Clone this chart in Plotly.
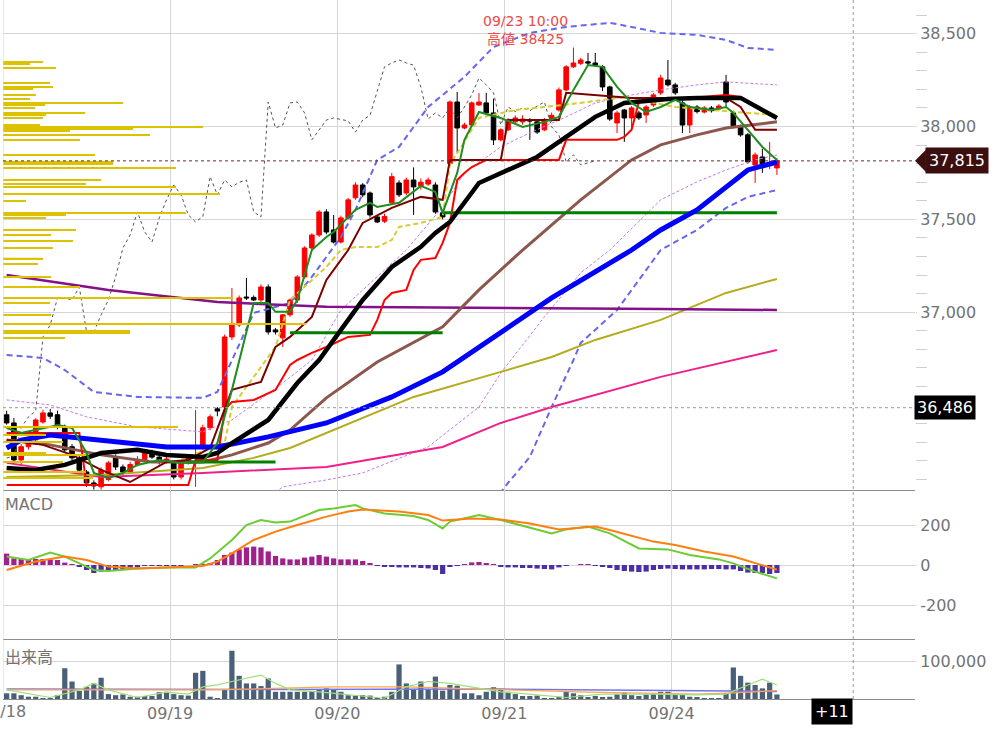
import plotly.graph_objects as go
from plotly.subplots import make_subplots

# ---------------- data ----------------
day_labels = ["09/18", "09/19", "09/20", "09/21", "09/24"]
bars_per_day = 23
future_bars = 11
marker_price = 36486

opens = [36448,36404,36205,36276,36313,36409,36458,36448,36383,36276,
         36216,36140,36081,36060,36100,36221,36167,36140,36180,36205,
         36243,36220,36195,36189,36113,36189,36215,36276,36378,36480,
         36490,36867,36932,37082,37080,37066,37136,36905,36862,36986,
         37066,37190,37346,37416,37540,37443,37378,37508,37616,37685,
         37642,37513,37490,37589,37696,37642,37712,37680,37690,37685,
         37535,37800,38132,37992,38008,38116,38127,38073,37928,37982,
         38025,38025,38035,38025,37982,38035,38089,38197,38321,38340,
         38348,38342,38321,38213,38019,38089,38046,38073,38062,38116,
         38181,38250,38224,38127,38008,38105,38078,38100,38095,38240,
         38073,37998,37955,37793,37836,37800,37777]
highs = [36470,36430,36290,36330,36430,36475,36480,36470,36395,36290,
         36230,36150,36095,36165,36200,36235,36180,36195,36225,36255,
         36260,36230,36225,36200,36200,36235,36474,36395,36450,36490,
         36880,37130,37090,37185,37090,37150,37150,36915,36990,37075,
         37200,37355,37425,37550,37555,37524,37520,37615,37700,37695,
         37650,37520,37530,37750,37710,37725,37780,37720,37725,37700,
         37545,38140,38186,38020,38135,38180,38181,38150,37990,38045,
         38060,38060,38045,38030,38045,38075,38210,38330,38425,38370,
         38396,38396,38330,38220,38085,38095,38110,38085,38115,38180,
         38278,38358,38235,38140,38115,38115,38110,38110,38120,38278,
         38085,38010,37965,37860,37880,37917,37830]
lows = [36395,36190,36180,36260,36300,36400,36425,36370,36245,36200,
        36135,36060,36045,36045,36090,36150,36120,36130,36170,36195,
        36210,36180,36185,36100,36100,36180,36060,36260,36365,36440,
        36470,36850,36920,37066,37060,37055,36880,36880,36813,36975,
        37050,37180,37335,37405,37420,37370,37370,37500,37605,37620,
        37510,37480,37480,37580,37620,37630,37524,37660,37680,37530,
        37500,37790,37860,37985,38000,38110,38060,37900,37920,37975,
        38015,38010,37928,37960,37975,38025,38080,38190,38315,38330,
        38330,38320,38190,38030,37965,37917,37982,38035,38019,38105,
        38170,38215,38170,37965,37965,38070,38070,38075,38085,38105,
        37990,37945,37800,37696,37750,37770,37739]
closes = [36404,36205,36276,36313,36420,36458,36440,36383,36259,36216,
          36150,36081,36065,36151,36189,36167,36140,36180,36205,36243,
          36220,36195,36210,36113,36189,36215,36225,36378,36437,36468,
          36867,36932,37077,37077,37066,37136,36894,36894,36986,37066,
          37190,37346,37416,37540,37432,37378,37508,37605,37685,37632,
          37524,37486,37515,37730,37632,37712,37675,37700,37712,37540,
          37513,38132,37992,38008,38127,38132,38073,37928,37982,38035,
          38046,38040,38030,37970,38035,38060,38197,38321,38342,38358,
          38342,38330,38213,38040,38073,38046,38100,38046,38105,38170,
          38261,38224,38181,38008,38105,38080,38100,38085,38110,38132,
          37998,37955,37810,37847,37793,37805,37815]

volume = [15000,15000,10000,6000,6000,2000,2000,10000,81000,46000,
          21000,32000,41000,56000,13000,10000,12000,6000,6000,8000,
          8000,18000,19000,13000,10000,9000,69000,74000,6000,1000,
          24000,127000,61000,41000,41000,34000,54000,19000,19000,19000,
          19000,19000,21000,25000,28000,26000,19000,10000,9000,10000,
          9000,2000,6000,19000,91000,41000,26000,46000,26000,59000,
          22000,37000,35000,15000,15000,10000,19000,31000,26000,19000,
          13000,8000,8000,9000,2000,1000,6000,21000,15000,10000,
          4000,8000,4000,6000,13000,17000,10000,8000,12000,13000,
          19000,19000,13000,12000,6000,4000,2000,1000,2000,15000,
          83000,61000,43000,37000,28000,43000,12000]

macd_hist = [57,33,30,30,30,30,28,25,12,2,
             -8,-25,-40,-33,-25,-25,-22,-15,-12,-5,
             -3,-2,-2,-2,-2,0,2,5,8,25,
             50,62,78,88,92,88,68,45,33,28,
             28,37,42,50,42,33,28,28,28,20,
             8,-2,-10,-10,-12,-12,-12,-15,-17,-25,
             -45,-8,-2,2,13,15,8,2,-10,-12,
             -12,-15,-15,-18,-20,-22,-12,-5,0,2,
             2,-3,-10,-15,-25,-30,-33,-35,-33,-25,
             -20,-18,-20,-22,-22,-22,-22,-20,-20,-22,
             -22,-30,-38,-40,-40,-45,-40]

# indicator lines: (bar index, value)
blue_x = [0,2,6,13,22,29,36,44,53,60,68,75,86,90,95,99,102,106]
blue_y = [36269,36312,36339,36312,36275,36275,36329,36404,36544,36679,36889,37077,37335,37443,37551,37675,37766,37809]
black_x = [0,4,8,13,18,22,27,29,31,36,40,43,46,49,53,57,59,61,65,70,73,77,81,85,91,95,101,106]
black_y = [36162,36151,36178,36242,36259,36232,36221,36242,36296,36420,36619,36743,36905,37066,37244,37352,37427,37486,37696,37782,37836,37944,38052,38127,38148,38154,38154,38046]
brown_x = [0,6,13,20,27,31,36,39,44,51,60,65,71,79,86,90,95,99,106]
brown_y = [36312,36286,36232,36194,36194,36232,36296,36366,36539,36732,36921,37120,37335,37605,37820,37901,37955,37992,38025]
olive_x = [0,13,27,34,39,44,56,68,75,81,90,99,106]
olive_y = [36113,36124,36162,36216,36269,36350,36544,36679,36759,36851,36959,37104,37179]
pink_x = [0,13,27,44,60,68,75,90,106]
pink_y = [36189,36113,36135,36167,36275,36404,36490,36652,36797]
purple_x = [0,14,29,44,90,106]
purple_y = [37201,37120,37055,37029,37018,37012]
green_x = [0,2,6,7,9,11,12,14,16,18,21,24,27,28,29,31,32,34,36,37,39,40,42,44,45,48,50,51,54,56,
           57,59,60,62,63,65,68,71,74,76,78,80,82,84,86,88,90,92,94,97,99,100,102,104,106]
green_y = [36377,36350,36383,36393,36377,36242,36135,36108,36135,36178,36205,36189,36194,36242,36296,
           36582,36743,37050,37050,37002,37002,37066,37335,37405,37432,37551,37589,37567,37589,37648,
           37680,37648,37535,37750,37928,38078,38046,37998,38025,38052,38197,38331,38321,38213,38127,
           38078,38105,38143,38105,38089,38105,38073,37982,37890,37820]
maroon_x = [0,5,9,13,17,20,22,25,28,31,35,37,39,42,44,47,49,53,57,60,61,68,69,76,77,86,99,101,103,106]
maroon_y = [36312,36286,36232,36151,36086,36151,36194,36205,36269,36582,36625,36813,36867,36975,37174,
            37335,37481,37562,37621,37605,37820,37820,38035,38035,38181,38154,38154,38105,37982,37982]
red_x = [0,10,11,25,26,29,30,31,34,37,39,40,42,44,47,50,51,52,53,55,56,57,59,60,61,62,63,64,66,76,
         77,84,85,86,87,99,101,103,106]
red_y = [36350,36350,36070,36070,36205,36205,36474,36517,36528,36582,36716,36743,36781,36813,36867,
         36878,36959,37066,37104,37120,37228,37282,37292,37373,37481,37712,37750,37782,37820,37820,
         37928,37928,37944,37982,38132,38170,38159,38105,38052]
red2_x = [0,11]
red2_y = [36070,36070]
yellow_x = [23,30,31,34,37,39,41,44,46,48,51,53,54,57,60,61,65,70,74,79,85,92,102,106]
yellow_y = [36194,36296,36490,36652,36813,37066,37136,37244,37335,37351,37351,37389,37459,37481,
            37513,37793,38046,38089,38105,38127,38159,38105,38073,38062]
bb2_up_x = [0,5,8,12,18,27,29,31,34,39,42,46,48,51,54,58,63,67,72,77,83,86,90,95,99,102,106]
bb2_up_y = [36770,36754,36689,36571,36544,36539,36571,36743,36996,37050,37190,37405,37551,37820,37890,
            38105,38267,38428,38504,38536,38558,38536,38504,38493,38466,38423,38412]
bb2_lo_x = [67,69,72,75,78,79,84,90,95,99,102,106]
bb2_lo_y = [35980,36081,36221,36490,36743,36835,37012,37335,37443,37562,37621,37658]
bb1_up_x = [0,6,11,18,27,31,38,42,46,51,55,60,63,68,72,77,81,86,90,95,99,106]
bb1_up_y = [36528,36501,36437,36383,36356,36420,36619,36743,37012,37190,37335,37567,37750,37890,37966,
            38052,38127,38170,38197,38224,38240,38224]
bb1_lo_x = [37,38,44,49,58,65,68,74,79,83,90,95,99,103,106]
bb1_lo_y = [36030,36060,36097,36135,36275,36490,36673,36975,37212,37335,37605,37702,37766,37820,37847]
chikou_shift = 25

sup_level = [36194, 36889, 37535]
sup_start = [25, 39, 60]
sup_end = [37, 60, 106]

macd_x = [0,3,6,8,11,12,14,18,22,26,28,31,33,35,37,39,43,45,48,49,52,56,58,60,61,65,68,75,77,80,83,87,91,94,98,100,103,106]
macd_y = [42,25,62,42,-8,-25,-30,-17,-12,-12,33,125,200,225,213,217,275,283,300,283,258,245,225,183,217,250,225,158,178,192,158,83,78,50,28,8,-33,-67]
signal_x = [0,4,8,11,14,18,22,27,29,31,34,37,40,44,47,49,54,58,60,64,68,72,76,81,83,89,92,96,100,103,106]
signal_y = [-25,17,42,25,-8,-17,-12,-5,17,58,125,167,200,242,267,278,267,250,222,233,228,208,178,192,175,117,100,67,42,8,-23]
macd_ticks = [-200, 0, 200]

vma_short_x = [0,6,10,12,14,18,22,25,27,29,31,35,37,39,43,47,52,55,58,61,64,68,73,77,82,89,95,99,102,104,106]
vma_short_y = [24000,4000,24000,41000,24000,4000,18000,13000,32000,37000,46000,63000,41000,24000,19000,
               11000,2000,32000,46000,41000,32000,19000,11000,4000,13000,13000,11000,13000,37000,52000,37000]
vma_mid_x = [0,27,33,45,55,68,80,95,100,106]
vma_mid_y = [24000,24000,26000,32000,32000,25000,18000,13000,16000,22000]
vma_long_x = [0,34,68,95,106]
vma_long_y = [26000,25000,26000,23000,20000]

# price-by-volume profile (price level, relative volume)
vp_price = [38348,38340,38315,38234,38213,38202,38170,38148,38127,38116,38100,38073,38062,38046,38008,
            37998,37990,37976,37955,37928,37847,37809,37800,37777,37712,37691,37675,37637,37599,37535,
            37527,37508,37443,37416,37383,37346,37290,37260,37190,37136,37077,37050,36986,36937,36899,
            36891,36862,36383,36340,36302,36243,36232,36194,36140,36108]
vp_volume = [40,27,53,47,50,30,33,27,120,42,32,82,43,40,37,200,130,67,147,77,92,110,110,173,98,83,173,
             217,23,183,63,43,73,48,70,50,40,35,48,77,230,47,48,303,127,127,62,175,43,60,43,83,60,83,90]

# ---------------- figure ----------------
n = len(closes)
idx = list(range(n))
last_idx = n - 1
x_range = [-0.5, 125.0]

FONT = "DejaVu Sans, Verdana, sans-serif"
GRID = "#d6d6d6"
LABEL = "#737373"

fig = make_subplots(rows=3, cols=1, shared_xaxes=True, vertical_spacing=0,
                    row_heights=[490, 149, 60])

fig.add_trace(go.Bar(x=vp_volume, y=vp_price, orientation="h", width=8,
                     marker=dict(color="#dcc200", line=dict(width=0)),
                     xaxis="x4", yaxis="y", hoverinfo="skip"))

fig.add_trace(go.Candlestick(
    x=idx, open=opens, high=highs, low=lows, close=closes,
    increasing=dict(line=dict(color="#ff0000", width=1), fillcolor="#ff0000"),
    decreasing=dict(line=dict(color="#000000", width=1), fillcolor="#000000"),
    whiskerwidth=0, hoverinfo="skip"), row=1, col=1)


def line(xs, ys, color, width, dash="solid", row=1):
    fig.add_trace(go.Scatter(x=xs, y=ys, mode="lines", hoverinfo="skip",
                             line=dict(color=color, width=width, dash=dash)),
                  row=row, col=1)


line(bb1_up_x, bb1_up_y, "#c77ae8", 1, "3px,2px")
line(bb1_lo_x, bb1_lo_y, "#c77ae8", 1, "3px,2px")
line(bb2_up_x, bb2_up_y, "#6666ee", 2, "6px,4px")
line(bb2_lo_x, bb2_lo_y, "#6666ee", 2, "6px,4px")
line([i - chikou_shift for i in range(chikou_shift, n)], closes[chikou_shift:], "#555555", 1, "dot")
line(pink_x, pink_y, "#f0208a", 2)
line(olive_x, olive_y, "#b2ac1e", 2)
line(purple_x, purple_y, "#84108a", 2.5)
line(brown_x, brown_y, "#8c574c", 3)
line(yellow_x, yellow_y, "#d8cc30", 2, "5px,3px")
line(red2_x, red2_y, "#ff0000", 2)
line(red_x, red_y, "#ff0000", 2)
line(maroon_x, maroon_y, "#7a0000", 2)
for lv, s, e in zip(sup_level, sup_start, sup_end):
    line([s, e], [lv, lv], "#008000", 3)
line(blue_x, blue_y, "#0000ff", 5)
line(black_x, black_y, "#000000", 4.5)
line(green_x, green_y, "#1e8c1e", 2)

# MACD
hist_colors = ["#a0208c" if v >= 0 else "#4c2fa8" for v in macd_hist]
fig.add_trace(go.Bar(x=idx, y=macd_hist, width=0.72, hoverinfo="skip",
                     marker=dict(color=hist_colors, line=dict(width=0))), row=2, col=1)
line(macd_x, macd_y, "#6ccc34", 2, row=2)
line(signal_x, signal_y, "#ff7f10", 2, row=2)

# volume
fig.add_trace(go.Bar(x=idx, y=volume, width=0.72, hoverinfo="skip",
                     marker=dict(color="#4a6079", line=dict(width=0))), row=3, col=1)
line(vma_long_x, vma_long_y, "#7474ea", 1.5, row=3)
line(vma_mid_x, vma_mid_y, "#ffa64d", 1.2, row=3)
line(vma_short_x, vma_short_y, "#9ee07a", 1.2, row=3)

tick_pos = [k * bars_per_day - 0.5 for k in range(len(day_labels))]
for ax in ["xaxis", "xaxis2", "xaxis3"]:
    fig.layout[ax].update(range=x_range, tickmode="array", tickvals=tick_pos, ticktext=day_labels,
                          showgrid=True, gridcolor=GRID, gridwidth=1, zeroline=False,
                          showline=True, linecolor="#8c8c8c", linewidth=1, ticks="",
                          showticklabels=False, automargin=False, rangeslider=dict(visible=False))
fig.layout.xaxis3.update(showticklabels=True, tickfont=dict(size=16, color=LABEL, family=FONT))

minor_vals = [v for v in range(36100, 38700, 100) if v % 500 != 0]
common_y = dict(side="right", showgrid=True, gridcolor=GRID, gridwidth=1, zeroline=False,
                tickfont=dict(size=16, color=LABEL, family=FONT), ticks="outside", ticklen=1,
                tickcolor=GRID, automargin=False)
fig.update_layout(
    yaxis=dict(common_y, range=[36043, 38681], tickmode="array",
               tickvals=[37000, 37500, 38000, 38500], tickformat=",d",
               minor=dict(tickmode="array", tickvals=minor_vals, ticks="outside", ticklen=11,
                          tickcolor="#cfcfcf", showgrid=False)),
    yaxis2=dict(common_y, range=[-370, 375], tickmode="array", tickvals=macd_ticks,
                ticktext=[str(v) for v in macd_ticks]),
    yaxis3=dict(common_y, range=[0, 157900], tickmode="array", tickvals=[100000], tickformat=",d"),
    xaxis4=dict(overlaying="x", anchor="y", range=[0, 912], visible=False, automargin=False),
)

hi_idx = highs.index(max(highs))
last_close = closes[-1]
annotations = [
    dict(xref="paper", yref="y2 domain", x=0, y=1, xanchor="left", yanchor="top", xshift=0, yshift=-3,
         text="MACD", showarrow=False, font=dict(size=16, color=LABEL, family=FONT)),
    dict(xref="paper", yref="y3 domain", x=0, y=1, xanchor="left", yanchor="top", xshift=0, yshift=-3,
         text="出来高", showarrow=False,
         font=dict(size=16, color=LABEL, family="Noto Sans CJK JP, DejaVu Sans")),
    dict(xref="x", yref="y", x=hi_idx, y=max(highs) + 95, xanchor="center", yanchor="middle", xshift=-48,
         text="09/23 10:00<br>高値 %d" % max(highs), showarrow=False,
         font=dict(size=14, color="#f04848", family="DejaVu Sans, Noto Sans CJK JP")),
    dict(xref="paper", yref="y", x=1, y=last_close, xanchor="left", yanchor="middle", xshift=10,
         text=f"{last_close:,}", showarrow=False, bgcolor="#3d0e0e", borderpad=3,
         font=dict(size=16, color="white", family=FONT)),
    dict(xref="paper", yref="y", x=1, y=marker_price, xanchor="left", yanchor="middle", xshift=-1,
         text=f"{marker_price:,}", showarrow=False, bgcolor="#000000", borderpad=2,
         font=dict(size=16, color="white", family=FONT)),
    dict(xref="x3", yref="paper", x=last_idx + future_bars - 0.5, y=0, xanchor="right", yanchor="top",
         yshift=1, text=f"+{future_bars}", showarrow=False, bgcolor="#000000", borderpad=3,
         font=dict(size=16, color="white", family=FONT)),
    # first day label sits on the left edge (partly cut off, as in the source)
    dict(xref="x3", yref="paper", x=tick_pos[0], y=0, xanchor="center", yanchor="top", yshift=-1,
         text=day_labels[0], showarrow=False, font=dict(size=16, color=LABEL, family=FONT)),
]

shapes = [
    dict(type="line", xref="x", yref="paper", x0=tick_pos[0], x1=tick_pos[0], y0=0, y1=1,
         line=dict(color=GRID, width=1)),
    dict(type="line", xref="paper", yref="y", x0=0, x1=1, y0=last_close, y1=last_close,
         line=dict(color="#6b2a2a", width=1, dash="dot")),
    dict(type="line", xref="paper", yref="y", x0=0, x1=1, y0=marker_price, y1=marker_price,
         line=dict(color="#999999", width=1, dash="dot")),
    dict(type="line", xref="x", yref="paper", x0=last_idx + future_bars - 0.5,
         x1=last_idx + future_bars - 0.5, y0=0, y1=1,
         line=dict(color="#999999", width=1, dash="dot")),
    dict(type="path", xref="paper", yref="y", fillcolor="#3d0e0e", line=dict(width=0),
         path=f"M 1.0 {last_close} L 1.012 {last_close + 60} L 1.012 {last_close - 60} Z"),
]

fig.update_layout(
    width=999, height=738, margin=dict(l=3, r=84, t=0, b=39),
    paper_bgcolor="white", plot_bgcolor="white", showlegend=False,
    font=dict(family=FONT, size=16, color=LABEL),
    boxgap=0.1, annotations=annotations, shapes=shapes,
)

fig.write_html("out.html", config={"displayModeBar": False},
               post_script="document.body.style.margin='0px';document.body.style.padding='0px';")
